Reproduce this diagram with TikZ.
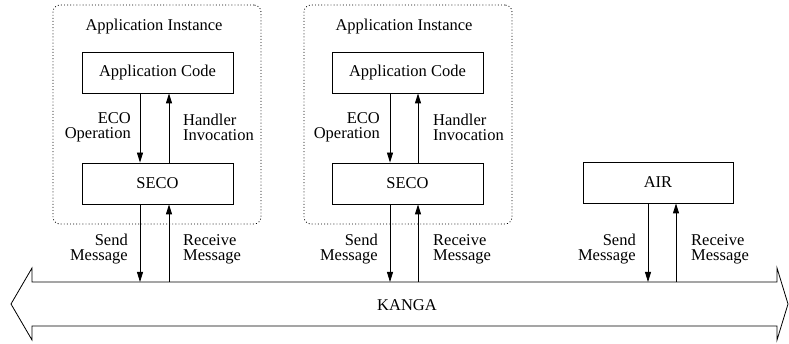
\documentclass[tikz,border=0pt]{standalone}
\usepackage{fontspec}
\setmainfont{Liberation Serif}
\usetikzlibrary{arrows.meta}
\begin{document}
\begin{tikzpicture}[x=1pt,y=-1pt,
  every node/.style={font=\fontsize{16.5}{15}\selectfont},
  box/.style={draw,line width=0.8pt,minimum width=151pt,minimum height=41pt,inner sep=0pt},
  instbox/.style={draw,line width=0.8pt,dash pattern=on 0.9pt off 2.2pt,rounded corners=7pt,minimum width=208pt,minimum height=219pt,inner sep=0pt},
  arr/.style={line width=0.8pt,-{Triangle[length=10pt,width=6pt]}},
  lbl/.style={inner sep=0pt},
  lblr/.style={lbl,align=right,anchor=east},
  lbll/.style={lbl,align=left,anchor=west},
  bus/.style={draw,line width=0.8pt,line join=miter}]
\useasboundingbox (0,0) rectangle (789,344);

% instance containers
\node[instbox] (inst1) at (157,114.5) {};
\node[instbox] (inst2) at (408,114.5) {};
\node[lbl] (title1) at (154,27) {Application Instance};
\node[lbl] (title2) at (404,27) {Application Instance};

% boxes
\node[box] (app1) at (157.5,72.5) {Application Code};
\node[box] (seco1) at (157.5,183.5) {SECO};
\node[box] (app2) at (407.5,72.5) {Application Code};
\node[box] (seco2) at (407.5,183.5) {SECO};
\node[box,minimum width=150pt] (air) at (658,182.5) {AIR};

% bus (KANGA)
\draw[bus] (11,304) -- (32,268) -- (32,282) -- (777,282) -- (777,268) -- (788,304)
  -- (777,340) -- (777,326) -- (32,326) -- (32,340) -- cycle;
\node[lbl] (kanga) at (407,305) {KANGA};
\coordinate (bustop) at (0,282);

% inner arrows
\draw[arr] ([xshift=-17.5pt]app1.south) -- ([xshift=-17.5pt]seco1.north);
\draw[arr] ([xshift=11.5pt]seco1.north) -- ([xshift=11.5pt]app1.south);
\draw[arr] ([xshift=-17.5pt]app2.south) -- ([xshift=-17.5pt]seco2.north);
\draw[arr] ([xshift=10.5pt]seco2.north) -- ([xshift=10.5pt]app2.south);

% bus arrows
\draw[arr] ([xshift=-17.5pt]seco1.south) -- ([xshift=-17.5pt]seco1.south |- bustop);
\draw[arr] ([xshift=11.5pt]seco1.south |- bustop) -- ([xshift=11.5pt]seco1.south);
\draw[arr] ([xshift=-17.5pt]seco2.south) -- ([xshift=-17.5pt]seco2.south |- bustop);
\draw[arr] ([xshift=10.5pt]seco2.south |- bustop) -- ([xshift=10.5pt]seco2.south);
\draw[arr] ([xshift=-10pt]air.south) -- ([xshift=-10pt]air.south |- bustop);
\draw[arr] ([xshift=18pt]air.south |- bustop) -- ([xshift=18pt]air.south);

% labels
\node[lblr] (eco1) at (131,127) {ECO\\Operation};
\node[lbll] (hnd1) at (183,127) {Handler\\Invocation};
\node[lblr] (eco2) at (380,127) {ECO\\Operation};
\node[lbll] (hnd2) at (433,127) {Handler\\Invocation};
\node[lblr] (snd1) at (128,249) {Send\\Message};
\node[lbll] (rcv1) at (183,249) {Receive\\Message};
\node[lblr] (snd2) at (378,249) {Send\\Message};
\node[lbll] (rcv2) at (433,249) {Receive\\Message};
\node[lblr] (snd3) at (636,249) {Send\\Message};
\node[lbll] (rcv3) at (691,249) {Receive\\Message};
\end{tikzpicture}
\end{document}
